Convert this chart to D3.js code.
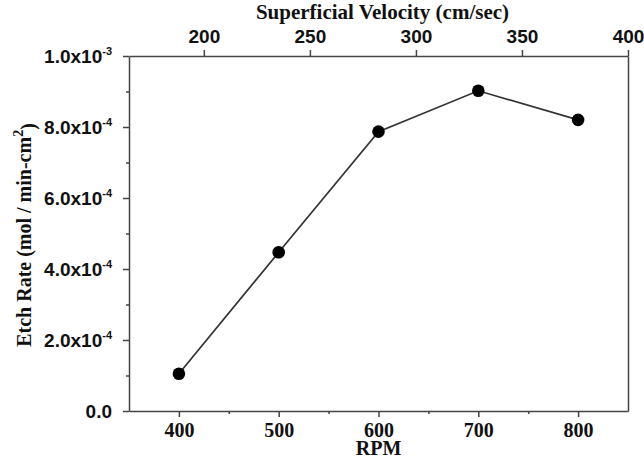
<!DOCTYPE html>
<html>
<head>
<meta charset="utf-8">
<script src="https://cdn.jsdelivr.net/npm/d3@7"></script>
<style>
  body { margin: 0; background: #fff; }
  .axis path, .axis line { stroke: #444; stroke-width: 1.5; }
  .sans text { font-family: "Liberation Sans", Arial, sans-serif; font-weight: bold; font-size: 19px; fill: #111; }
  .serif text { font-family: "Liberation Serif", "Times New Roman", serif; font-weight: bold; font-size: 20px; fill: #111; }
  .title { font-family: "Liberation Serif", "Times New Roman", serif; font-weight: bold; font-size: 21px; fill: #111; }
</style>
</head>
<body>
<div id="chart"></div>
<script>
// data
const rpm = [400, 500, 600, 700, 800];
const etchRate = [1.05e-4, 4.47e-4, 7.87e-4, 9.02e-4, 8.2e-4];
const rpmTicks = [400, 500, 600, 700, 800];
const velocityTicks = [200, 250, 300, 350, 400];
const rateTicks = [0, 2e-4, 4e-4, 6e-4, 8e-4, 1e-3];

const config = {
  containerWidth: 644,
  containerHeight: 460,
  margin: { top: 56, right: 16, bottom: 49, left: 129 }
};
const width = config.containerWidth - config.margin.left - config.margin.right;
const height = config.containerHeight - config.margin.top - config.margin.bottom;

const svg = d3.select('#chart')
  .append('svg')
  .attr('width', config.containerWidth)
  .attr('height', config.containerHeight);

const chart = svg.append('g')
  .attr('transform', `translate(${config.margin.left},${config.margin.top})`);

// scales
const xScale = d3.scaleLinear().domain([350, 850]).range([0, width]);
// superficial velocity is proportional to rpm: 400 cm/sec at 850 rpm
const xTopScale = d3.scaleLinear().domain([350 * 400 / 850, 400]).range([0, width]);
const yScale = d3.scaleLinear().domain([0, 1e-3]).range([height, 0]);

// minor ticks first
chart.append('g')
  .attr('class', 'axis')
  .attr('transform', `translate(0,${height})`)
  .call(d3.axisBottom(xScale).tickValues([450, 550, 650, 750]).tickSize(3).tickFormat(''))
  .call(g => g.select('.domain').remove());
chart.append('g')
  .attr('class', 'axis')
  .call(d3.axisLeft(yScale).tickValues(d3.range(1e-4, 1e-3, 2e-4)).tickSize(3).tickFormat(''))
  .call(g => g.select('.domain').remove());

// bottom axis
chart.append('g')
  .attr('class', 'axis serif')
  .attr('transform', `translate(0,${height})`)
  .call(d3.axisBottom(xScale).tickValues(rpmTicks).tickSize(6).tickSizeOuter(0).tickPadding(6));

// top axis
chart.append('g')
  .attr('class', 'axis sans')
  .call(d3.axisTop(xTopScale).tickValues(velocityTicks).tickSize(6).tickSizeOuter(0).tickPadding(7));

// right frame
chart.append('g')
  .attr('class', 'axis')
  .attr('transform', `translate(${width},0)`)
  .call(d3.axisRight(yScale).tickValues([]).tickSizeOuter(0));

// left axis with 10^n labels
const yAxisG = chart.append('g')
  .attr('class', 'axis sans')
  .call(d3.axisLeft(yScale).tickValues(rateTicks).tickSize(6).tickSizeOuter(0).tickPadding(11).tickFormat(''));

yAxisG.selectAll('.tick text').each(function (d) {
  const t = d3.select(this).attr('dy', '0.35em');
  if (d === 0) {
    t.text('0.0');
    return;
  }
  const exp = Math.floor(Math.log10(d) + 1e-9);
  const mant = d / Math.pow(10, exp);
  t.append('tspan').text(mant.toFixed(1) + 'x10');
  t.append('tspan')
    .attr('dy', '-0.75em')
    .style('font-size', '11px')
    .text(String(exp).replace('-', '\u2010'));
});

// line and markers
const line = d3.line()
  .x((d, i) => xScale(rpm[i]))
  .y(d => yScale(d));

chart.append('path')
  .datum(etchRate)
  .attr('fill', 'none')
  .attr('stroke', '#333')
  .attr('stroke-width', 1.7)
  .attr('d', line);

chart.selectAll('circle')
  .data(etchRate)
  .join('circle')
  .attr('cx', (d, i) => xScale(rpm[i]))
  .attr('cy', d => yScale(d))
  .attr('r', 6.3)
  .attr('fill', '#000');

// axis titles
svg.append('text')
  .attr('class', 'title')
  .attr('x', config.margin.left + width / 2 + 4)
  .attr('y', 19)
  .attr('text-anchor', 'middle')
  .text('Superficial Velocity (cm/sec)');

svg.append('text')
  .attr('class', 'title')
  .attr('x', config.margin.left + xScale(600))
  .attr('y', 455)
  .attr('text-anchor', 'middle')
  .style('font-size', '20px')
  .text('RPM');

const yTitle = svg.append('text')
  .attr('class', 'title')
  .attr('transform', 'translate(31,235) rotate(-90)')
  .attr('text-anchor', 'middle')
  .style('font-size', '20px');
yTitle.append('tspan').text('Etch Rate (mol / min-cm');
yTitle.append('tspan').attr('dy', '-0.6em').style('font-size', '14px').text('2');
yTitle.append('tspan').attr('dy', '0.6em').text(')');
</script>
</body>
</html>
